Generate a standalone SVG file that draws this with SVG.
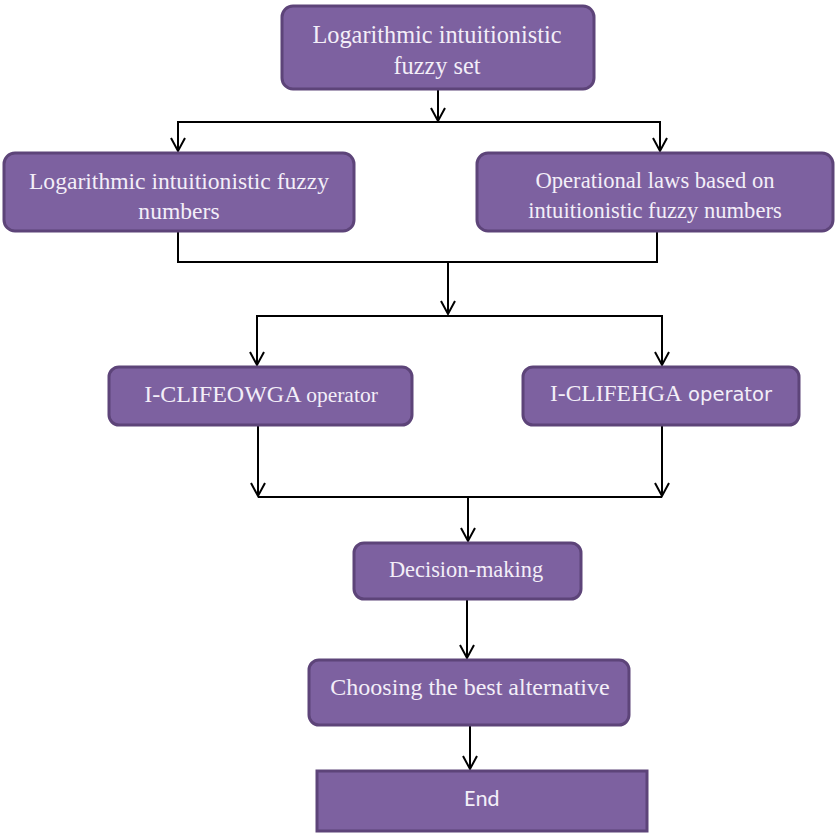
<svg xmlns="http://www.w3.org/2000/svg" width="839" height="836" viewBox="0 0 839 836">
<defs>
<marker id="arr" markerUnits="userSpaceOnUse" markerWidth="24" markerHeight="24" viewBox="-18 -12 24 24" refX="0" refY="0" orient="auto" overflow="visible">
<path d="M-13,-7 L0,0 L-13,7" fill="none" stroke="#000" stroke-width="2"/>
</marker>
<style>
.box{fill:#7d61a0;stroke:#5d4479;stroke-width:3}
.t{font-family:"Liberation Serif","Times New Roman",serif;fill:#f3eef8;text-anchor:middle}
.s{font-family:"DejaVu Sans",Verdana,sans-serif;fill:#f3eef8}
.c{fill:none;stroke:#000;stroke-width:2}
.a{fill:none;stroke:#000;stroke-width:2;marker-end:url(#arr)}
</style>
</defs>
<rect width="839" height="836" fill="#fff"/>
<g id="connectors">
<line class="a" x1="438" y1="90" x2="438" y2="121"/>
<line class="c" x1="177" y1="122" x2="661" y2="122"/>
<line class="a" x1="178" y1="122" x2="178" y2="151"/>
<line class="a" x1="660" y1="122" x2="660" y2="151"/>
<polyline class="c" points="178,232 178,262 657,262 657,232"/>
<line class="a" x1="448" y1="262" x2="448" y2="314"/>
<line class="c" x1="256" y1="316" x2="663" y2="316"/>
<line class="a" x1="257" y1="316" x2="257" y2="365"/>
<line class="a" x1="662" y1="316" x2="662" y2="365"/>
<line class="a" x1="258" y1="426" x2="258" y2="496"/>
<line class="a" x1="662" y1="426" x2="662" y2="496"/>
<line class="c" x1="258" y1="497" x2="662" y2="497"/>
<line class="a" x1="468" y1="497" x2="468" y2="541"/>
<line class="a" x1="467" y1="600" x2="467" y2="658"/>
<line class="a" x1="470" y1="726" x2="470" y2="769"/>
</g>
<g id="n1">
<rect class="box" x="282" y="6" width="312" height="83" rx="11"/>
<text class="t" x="437" y="43" font-size="24.3">Logarithmic intuitionistic</text>
<text class="t" x="437" y="74" font-size="24.3">fuzzy set</text>
</g>
<g id="n2">
<rect class="box" x="4" y="153" width="350" height="78" rx="11"/>
<text class="t" x="179" y="189" font-size="23.6">Logarithmic intuitionistic fuzzy</text>
<text class="t" x="179" y="219" font-size="23.6">numbers</text>
</g>
<g id="n3">
<rect class="box" x="477" y="153" width="356" height="78" rx="11"/>
<text class="t" x="655" y="188" font-size="22.6">Operational laws based on</text>
<text class="t" x="655" y="218" font-size="22.6">intuitionistic fuzzy numbers</text>
</g>
<g id="n4">
<rect class="box" x="109" y="367" width="303" height="58" rx="10"/>
<text class="t" x="261" y="402" font-size="24">I-CLIFEOWGA <tspan font-size="21.5">operator</tspan></text>
</g>
<g id="n5">
<rect class="box" x="523" y="367" width="276" height="58" rx="10"/>
<text x="661" y="401" font-size="23.5" text-anchor="middle"><tspan class="t">I-CLIFEHGA</tspan><tspan class="s" font-size="19.5"> operator</tspan></text>
</g>
<g id="n6">
<rect class="box" x="354" y="543" width="227" height="56" rx="10"/>
<text class="t" x="466" y="577" font-size="22.4">Decision-making</text>
</g>
<g id="n7">
<rect class="box" x="309" y="660" width="320" height="65" rx="10"/>
<text class="t" x="470" y="695" font-size="24">Choosing the best alternative</text>
</g>
<g id="n8">
<rect class="box" x="317" y="771" width="330" height="60"/>
<text x="482" y="806" font-size="23" text-anchor="middle" font-family="Carlito,'Liberation Sans',sans-serif" fill="#f3eef8">End</text>
</g>
</svg>
